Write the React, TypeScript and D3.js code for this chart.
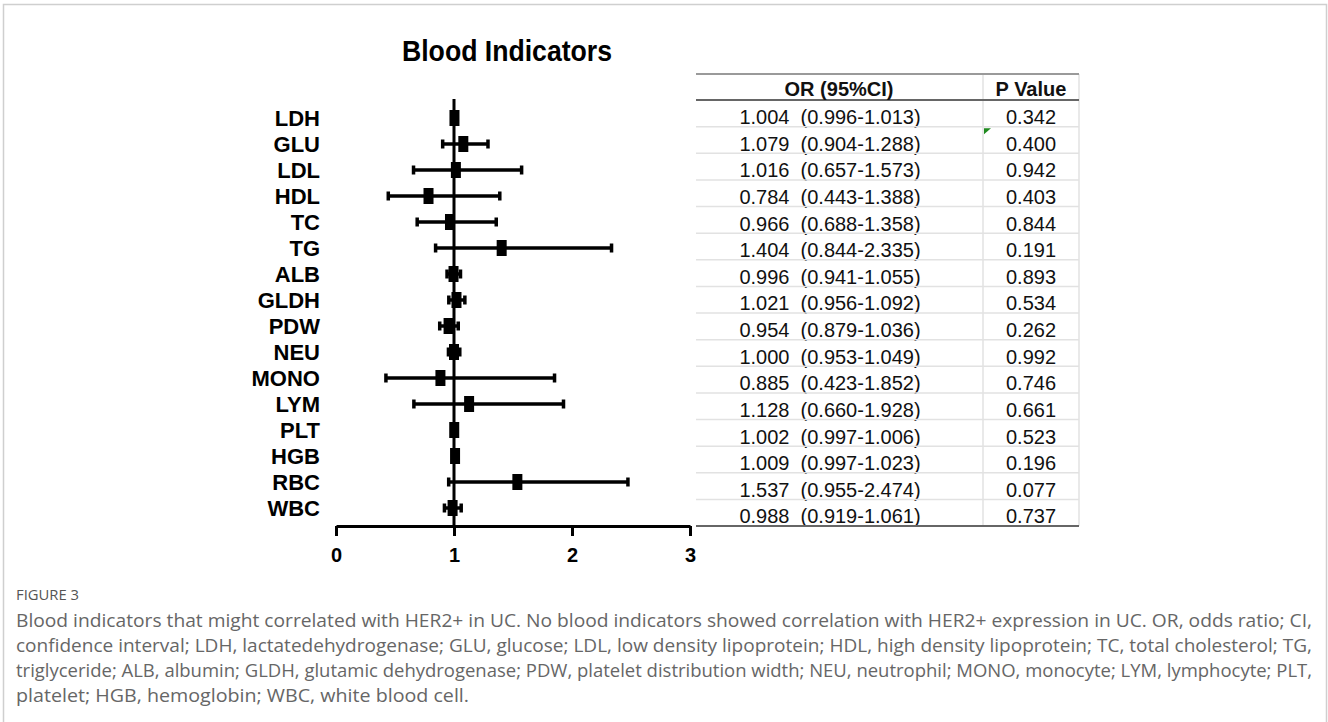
import React, { useEffect, useMemo, useRef } from "react";
import * as d3 from "d3";

const WIDTH = 1328;
const HEIGHT = 722;

const indicators = ["LDH", "GLU", "LDL", "HDL", "TC", "TG", "ALB", "GLDH", "PDW", "NEU", "MONO", "LYM", "PLT", "HGB", "RBC", "WBC"];
const orValues = [1.004, 1.079, 1.016, 0.784, 0.966, 1.404, 0.996, 1.021, 0.954, 1.0, 0.885, 1.128, 1.002, 1.009, 1.537, 0.988];
const ciLow = [0.996, 0.904, 0.657, 0.443, 0.688, 0.844, 0.941, 0.956, 0.879, 0.953, 0.423, 0.66, 0.997, 0.997, 0.955, 0.919];
const ciHigh = [1.013, 1.288, 1.573, 1.388, 1.358, 2.335, 1.055, 1.092, 1.036, 1.049, 1.852, 1.928, 1.006, 1.023, 2.474, 1.061];
const pValues = ["0.342", "0.400", "0.942", "0.403", "0.844", "0.191", "0.893", "0.534", "0.262", "0.992", "0.746", "0.661", "0.523", "0.196", "0.077", "0.737"];
const xTicks = [0, 1, 2, 3];

const captionLines = [
    "Blood indicators that might correlated with HER2+ in UC. No blood indicators showed correlation with HER2+ expression in UC. OR, odds ratio; CI,",
    "confidence interval; LDH, lactatedehydrogenase; GLU, glucose; LDL, low density lipoprotein; HDL, high density lipoprotein; TC, total cholesterol; TG,",
    "triglyceride; ALB, albumin; GLDH, glutamic dehydrogenase; PDW, platelet distribution width; NEU, neutrophil; MONO, monocyte; LYM, lymphocyte; PLT,",
    "platelet; HGB, hemoglobin; WBC, white blood cell.",
];
// width each caption line is set to (justified text block)
const captionWidths = [1296, 1296, 1296, 453];

const FONT = "'Liberation Sans', Arial, sans-serif";
const CAPTION_FONT = "'Open Sans', 'Noto Sans', sans-serif";

// plot area
const PLOT = { left: 336, right: 690, axisY: 526, top: 118, bottom: 508 };
// table geometry
const TABLE = { left: 696, right: 1079, top: 74, headBottom: 100, rowH: 26.63, split: 983 };

const fmt = (v: number) => v.toFixed(3);

const App = () => {
    const axisRef = useRef<SVGGElement | null>(null);

    const xScale = useMemo(() => d3.scaleLinear().domain([0, 3]).range([PLOT.left, PLOT.right]), []);
    const yScale = useMemo(() => d3.scalePoint().domain(indicators).range([PLOT.top, PLOT.bottom]), []);

    // x axis with d3
    useEffect(() => {
        const g = d3.select(axisRef.current);
        g.selectAll("*").remove();
        g.call(d3.axisBottom(xScale).tickValues(xTicks).tickFormat(d3.format("d")).tickSize(10).tickSizeOuter(0).tickPadding(12));
        g.select(".domain").attr("stroke", "#000").attr("stroke-width", 3);
        g.selectAll(".tick line").attr("stroke", "#000").attr("stroke-width", 3);
        g.selectAll(".tick text")
            .attr("fill", "#000")
            .style("font-family", FONT)
            .style("font-weight", "bold")
            .style("font-size", "20px");
    }, [xScale]);

    const rows = indicators.map((name, i) => ({
        name,
        or: orValues[i],
        lo: ciLow[i],
        hi: ciHigh[i],
        p: pValues[i],
    }));

    const tableBottom = TABLE.headBottom + TABLE.rowH * rows.length;

    return (
        <svg width={WIDTH} height={HEIGHT} style={{ position: "fixed", left: 0, top: 0, background: "#fff" }}>
            <rect x={0} y={0} width={WIDTH} height={HEIGHT} fill="#fff" />
            {/* frame */}
            <path d={`M3.5,${HEIGHT} V4.5 H1326.5 V${HEIGHT}`} fill="none" stroke="#cfcfcf" strokeWidth={1.5} />

            {/* title */}
            <text x={507} y={61} textAnchor="middle" fontFamily={FONT} fontWeight="bold" fontSize={30} textLength={210} lengthAdjust="spacingAndGlyphs">
                Blood Indicators
            </text>

            {/* row labels */}
            {rows.map((r) => (
                <text key={r.name} x={320} y={yScale(r.name)} dy="0.36em" textAnchor="end" fontFamily={FONT} fontWeight="bold" fontSize={22}>
                    {r.name}
                </text>
            ))}

            {/* reference line at OR = 1 */}
            <line x1={xScale(1)} x2={xScale(1)} y1={99} y2={PLOT.axisY} stroke="#000" strokeWidth={3} />

            {/* whiskers and markers */}
            {rows.map((r) => {
                const y = yScale(r.name) as number;
                return (
                    <g key={r.name}>
                        <line x1={xScale(r.lo)} x2={xScale(r.hi)} y1={y} y2={y} stroke="#000" strokeWidth={3.5} />
                        <rect x={xScale(r.lo) - 1.75} y={y - 4.5} width={3.5} height={9} fill="#000" />
                        <rect x={xScale(r.hi) - 1.75} y={y - 4.5} width={3.5} height={9} fill="#000" />
                        <rect x={xScale(r.or) - 5} y={y - 8} width={10} height={16} fill="#000" />
                    </g>
                );
            })}

            <g ref={axisRef} transform={`translate(0,${PLOT.axisY})`} />

            {/* table */}
            <g fontFamily={FONT} fontSize={20} fill="#111">
                {rows.map((r, i) => {
                    const y0 = TABLE.headBottom + TABLE.rowH * i;
                    return (
                        <g key={r.name}>
                            {i > 0 && <line x1={TABLE.left} x2={TABLE.right} y1={y0} y2={y0} stroke="#e2e2e2" strokeWidth={1.5} />}
                            <text x={830} y={y0 + 24} textAnchor="middle" xmlSpace="preserve">
                                {`${fmt(r.or)}  (${fmt(r.lo)}-${fmt(r.hi)})`}
                            </text>
                            <text x={1031} y={y0 + 24} textAnchor="middle">
                                {r.p}
                            </text>
                        </g>
                    );
                })}
                <line x1={TABLE.split} x2={TABLE.split} y1={TABLE.top} y2={tableBottom} stroke="#e2e2e2" strokeWidth={1.5} />
                <line x1={TABLE.right} x2={TABLE.right} y1={TABLE.top} y2={tableBottom} stroke="#e2e2e2" strokeWidth={1.5} />
                <line x1={TABLE.left} x2={TABLE.right} y1={TABLE.top} y2={TABLE.top} stroke="#9a9a9a" strokeWidth={2} />
                <line x1={TABLE.left} x2={TABLE.right} y1={TABLE.headBottom} y2={TABLE.headBottom} stroke="#666" strokeWidth={2} />
                <line x1={TABLE.left} x2={TABLE.right} y1={tableBottom} y2={tableBottom} stroke="#666" strokeWidth={2} />
                <text x={839} y={96} textAnchor="middle" fontWeight="bold">OR (95%CI)</text>
                <text x={1031} y={96} textAnchor="middle" fontWeight="bold">P Value</text>
                {/* comment marker in the cell */}
                <path d={`M${TABLE.split + 1},${TABLE.headBottom + TABLE.rowH + 1.5} h7 l-7,6 z`} fill="#1f8a1f" />
            </g>

            {/* caption */}
            <text x={16} y={600} fontFamily={CAPTION_FONT} fontSize={14} fill="#555" textLength={63} lengthAdjust="spacingAndGlyphs">
                FIGURE 3
            </text>
            {captionLines.map((line, i) => (
                <text
                    key={i}
                    x={16}
                    y={627 + i * 25}
                    fontFamily={CAPTION_FONT}
                    fontSize={18.5}
                    fill="#666"
                    textLength={captionWidths[i]}
                    lengthAdjust="spacingAndGlyphs"
                >
                    {line}
                </text>
            ))}
        </svg>
    );
};

export default App;
